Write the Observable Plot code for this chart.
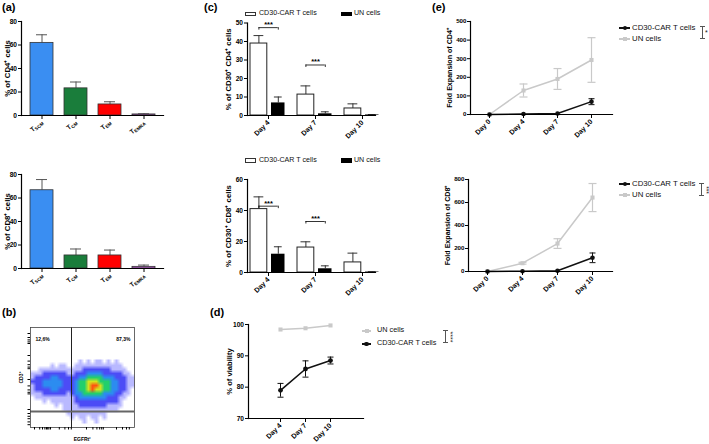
<!DOCTYPE html>
<html><head><meta charset="utf-8">
<script src="https://cdn.jsdelivr.net/npm/d3@7"></script>
<script src="https://cdn.jsdelivr.net/npm/@observablehq/plot@0.6"></script>
<style>
body{margin:0;background:#fff;}
#fig{position:relative;width:709px;height:444px;overflow:hidden;background:#fff;}
</style></head>
<body><div id="fig"></div>
<script>
// ---------- data ----------
const subsets = ["SCM", "CM", "EM", "EMRA"];
const subsetColors = ["#3a8ef2", "#1a7d3b", "#ff0000", "#c25fd6"];
const cd4Percent = [61.8, 23.1, 9.4, 0.9];
const cd4PercentErr = [6.9, 5.4, 2.3, 0.5];
const cd8Percent = [66.6, 11.1, 11.1, 1.4];
const cd8PercentErr = [9.1, 5.5, 4.6, 1.5];

const cd30Days = ["Day 4", "Day 7", "Day 10"];
const cd30Cd4Car = [38.9, 11.3, 3.8];
const cd30Cd4CarErr = [4.3, 4.7, 2.5];
const cd30Cd4Un = [6.8, 0.9, 0.3];
const cd30Cd4UnErr = [3.2, 1.1, 0.2];
const cd30Cd4Sig = [47.5, 27.3];
const cd30Cd8Car = [40.9, 16.1, 6.5];
const cd30Cd8CarErr = [7.9, 3.7, 6.0];
const cd30Cd8Un = [11.8, 2.4, 0.3];
const cd30Cd8UnErr = [4.8, 1.9, 0.2];
const cd30Cd8Sig = [42.8, 32.9];

const viabilityUn = [98.4, 98.8, 99.7];
const viabilityCar = [79.0, 85.8, 88.5];
const viabilityCarErr = [2.2, 2.6, 1.1];

const expansionDays = ["Day 0", "Day 4", "Day 7", "Day 10"];
const expCd4Car = [0, 3, 5, 69];
const expCd4CarErr = [0, 2, 3, 16];
const expCd4Un = [0, 129, 191, 293];
const expCd4UnErr = [0, 35, 56, 120];
const expCd8Car = [0, 2, 6, 119];
const expCd8CarErr = [0, 2, 3, 42];
const expCd8Un = [0, 72, 243, 643];
const expCd8UnErr = [0, 8, 42, 122];

// flow cytometry density (levels 0-6), 16 rows x 26 columns
const flowDensity = [
  "00000000000010101101010000",
  "00000101100111111111111000",
  "00111111111112222222111100",
  "11122222211222333322222110",
  "12222332222233444433322211",
  "22233333222344555444332211",
  "12233333222344566544332211",
  "12222332222344565544332210",
  "11122222212334444433322110",
  "01111111111233333332221100",
  "00010111111222222222221000",
  "00000010111122222221111000",
  "00000000111111111111110000",
  "00000000011111111110000000",
  "00000000001011011010000000",
  "00000000000001001000000000"
];
const flowColors = ["#b9b9ff", "#4c4cf6", "#2c8cf0", "#22cf6c", "#d2e41e", "#ff5210"];
const flowGateX = 10.25;
const flowGateY = 21;
const flowPercents = ["12,6%", "87,3%"];
const flowTicksY = [1.5, 2.5, 3.1, 3.6, 4.0, 7.0, 8.4, 9.3, 9.9, 10.3, 13.0, 14.6, 15.6, 16.2, 16.6, 20.5, 21.5, 22.2, 22.8, 23.6, 24.3];
const flowTicksX = [1.0, 2.3, 3.0, 3.6, 4.0, 4.3, 4.6, 5.0, 7.2, 8.6, 9.5, 10.2, 14.0, 15.6, 16.6, 17.3, 17.8, 18.2, 21.5, 23.0, 24.0, 24.7];

// ---------- helpers ----------
const fig = document.getElementById("fig");
const W = 709, H = 444;
const FONT = '"Liberation Sans", Arial, Helvetica, sans-serif';
const GREY = "#c9c9c9";
const svgStyle = {position: "absolute", left: "0px", top: "0px", background: "transparent",
  overflow: "visible", fontFamily: FONT, fontSize: "6.6px", fontWeight: "bold", color: "#000"};
// horizontal error-bar cap drawn as a dot symbol (for point scales)
const capSymbol = {draw(context, size) { const w = Math.sqrt(size / Math.PI); context.moveTo(-w, 0); context.lineTo(w, 0); }};
function frameMargins(l, r, t, b) {
  return {width: W, height: H, marginLeft: l, marginRight: W - r, marginTop: t, marginBottom: H - b};
}
function axisLines() {
  return [Plot.frame({anchor: "left", strokeWidth: 1.2}), Plot.frame({anchor: "bottom", strokeWidth: 1.2})];
}
function yTitle(text, dx, size) {
  return Plot.text([text], {text: d => d, frameAnchor: "left", textAnchor: "middle", rotate: -90, dx, fontSize: size, fontWeight: "bold"});
}
function put(node) { fig.appendChild(node); return node; }
function box(left, top, w, h, css) {
  const d = document.createElement("div");
  d.style.cssText = `position:absolute;left:${left}px;top:${top}px;width:${w}px;height:${h}px;${css || ""}`;
  fig.appendChild(d); return d;
}
function label(text, left, cy, size, css) {
  const d = document.createElement("div");
  d.textContent = text;
  d.style.cssText = `position:absolute;left:${left}px;top:${cy - size * 0.62}px;font-size:${size}px;line-height:${size * 1.2}px;white-space:nowrap;font-family:${FONT};color:#111;${css || ""}`;
  fig.appendChild(d); return d;
}
function rotatedStars(text, cx, cy, size) {
  const d = document.createElement("div");
  d.textContent = text;
  d.style.cssText = `position:absolute;left:${cx - 12}px;top:${cy - 4}px;width:24px;height:8px;line-height:8px;text-align:center;font-size:${size}px;font-family:${FONT};transform:rotate(90deg);color:#222;`;
  fig.appendChild(d);
}
function bracket(x, y1, y2) {
  box(x, y1, 1, y2 - y1, "background:#555");
  box(x - 2, y1, 5, 1, "background:#555");
  box(x - 2, y2 - 1, 5, 1, "background:#555");
}

// ---------- (a) subset bar charts ----------
function subsetPanel(values, errs, top, bottom, title) {
  const rows = subsets.map((s, i) => ({s, v: values[i], e: errs[i], c: subsetColors[i]}));
  const p = Plot.plot({
    ...frameMargins(21, 163, top, bottom),
    style: svgStyle,
    x: {domain: subsets, range: [24, 162], paddingInner: 0.31, paddingOuter: 0.155},
    y: {domain: [0, 80]},
    color: {type: "identity"},
    marks: [
      Plot.ruleX(rows, {x: "s", y1: "v", y2: d => d.v + d.e, stroke: "#555", strokeWidth: 1}),
      Plot.tickY(rows, {x: "s", y: d => d.v + d.e, insetLeft: 6, insetRight: 6, stroke: "#555", strokeWidth: 1}),
      Plot.barY(rows, {x: "s", y: "v", fill: "c", stroke: "#333", strokeWidth: 0.8}),
      Plot.axisY({ticks: [0, 20, 40, 60, 80], tickSize: 3, tickPadding: 1.5, label: null}),
      Plot.axisX({tickSize: 4, tickPadding: 2, tickRotate: -40, tickFormat: d => "T" + d, label: null}),
      ...axisLines(),
      yTitle(title, -14.5, 7.8)
    ]
  });
  p.querySelectorAll('g[aria-label="x-axis tick label"] text').forEach(t => {
    const sub = t.textContent.slice(1);
    t.textContent = "T";
    const ts = document.createElementNS("http://www.w3.org/2000/svg", "tspan");
    ts.setAttribute("font-size", "4.6");
    ts.setAttribute("dy", "1.3");
    ts.textContent = sub;
    t.appendChild(ts);
  });
  return put(p);
}
subsetPanel(cd4Percent, cd4PercentErr, 21, 115, "% of CD4\u207A cells");
subsetPanel(cd8Percent, cd8PercentErr, 174, 268, "% of CD8\u207A cells");

// ---------- (c) CD30+ grouped bars ----------
function cd30Panel(car, carErr, un, unErr, sig, top, bottom, ymax, ticks, title) {
  const carRows = cd30Days.map((d, i) => ({d, v: car[i], e: carErr[i]}));
  const unRows = cd30Days.map((d, i) => ({d, v: un[i], e: unErr[i]}));
  const sigRows = sig.map((y, i) => ({d: cd30Days[i], y}));
  const perPx = ymax / (bottom - top);
  return put(Plot.plot({
    ...frameMargins(247, 375, top, bottom),
    style: svgStyle,
    x: {domain: cd30Days, range: [244.5, 385.5], paddingInner: 0.23, paddingOuter: 0.115},
    y: {domain: [0, ymax]},
    marks: [
      Plot.ruleX(carRows, {x: "d", y1: "v", y2: d => d.v + d.e, dx: -9.6, stroke: "#333"}),
      Plot.tickY(carRows, {x: "d", y: d => d.v + d.e, insetLeft: 3.5, insetRight: 22.7, stroke: "#333"}),
      Plot.ruleX(unRows, {x: "d", y1: "v", y2: d => d.v + d.e, dx: 9.8, stroke: "#333"}),
      Plot.tickY(unRows, {x: "d", y: d => d.v + d.e, insetLeft: 23.9, insetRight: 4.3, stroke: "#333"}),
      Plot.barY(carRows, {x: "d", y: "v", fill: "white", stroke: "#222", strokeWidth: 1, insetRight: 19.2}),
      Plot.barY(unRows, {x: "d", y: "v", fill: "black", insetLeft: 21, insetRight: 1.5}),
      Plot.tickY(sigRows, {x: "d", y: "y", insetLeft: 8.5, insetRight: 8.3, strokeWidth: 0.8}),
      Plot.ruleX(sigRows, {x: "d", y1: "y", y2: d => d.y - 2.5 * perPx, dx: -9.6, strokeWidth: 0.8}),
      Plot.ruleX(sigRows, {x: "d", y1: "y", y2: d => d.y - 2.5 * perPx, dx: 9.8, strokeWidth: 0.8}),
      Plot.text(sigRows, {x: "d", y: "y", text: () => "***", dy: -3, fontSize: 7.5}),
      Plot.axisY({ticks, tickSize: 3, tickPadding: 1.5, label: null}),
      Plot.axisX({tickSize: 4, tickPadding: 2, tickRotate: -45, label: null, fontSize: 7}),
      ...axisLines(),
      yTitle(title, -19, 7.8)
    ]
  }));
}
cd30Panel(cd30Cd4Car, cd30Cd4CarErr, cd30Cd4Un, cd30Cd4UnErr, cd30Cd4Sig, 22.5, 115, 50, [0, 10, 20, 30, 40, 50], "% of CD30\u207A CD4\u207A cells");
cd30Panel(cd30Cd8Car, cd30Cd8CarErr, cd30Cd8Un, cd30Cd8UnErr, cd30Cd8Sig, 179, 272, 60, [0, 20, 40, 60], "% of CD30\u207A CD8\u207A cells");

// ---------- (d) viability ----------
(function () {
  const unRows = cd30Days.map((d, i) => ({d, v: viabilityUn[i]}));
  const carRows = cd30Days.map((d, i) => ({d, v: viabilityCar[i], e: viabilityCarErr[i]}));
  put(Plot.plot({
    ...frameMargins(248, 363, 324, 418),
    style: svgStyle,
    x: {type: "point", domain: cd30Days, range: [267, 343]},
    y: {domain: [70, 100]},
    marks: [
      Plot.line(unRows, {x: "d", y: "v", stroke: GREY, strokeWidth: 1.5}),
      Plot.dot(unRows, {x: "d", y: "v", symbol: "square", fill: GREY, r: 2.3}),
      Plot.ruleX(carRows, {x: "d", y1: d => d.v - d.e, y2: d => d.v + d.e, stroke: "#111"}),
      Plot.dot(carRows, {x: "d", y: d => d.v - d.e, symbol: capSymbol, r: 3, stroke: "#111", strokeWidth: 1}),
      Plot.dot(carRows, {x: "d", y: d => d.v + d.e, symbol: capSymbol, r: 3, stroke: "#111", strokeWidth: 1}),
      Plot.line(carRows, {x: "d", y: "v", stroke: "#111", strokeWidth: 1.6}),
      Plot.dot(carRows, {x: "d", y: "v", fill: "#111", r: 2.4}),
      Plot.axisY({ticks: [70, 80, 90, 100], tickSize: 3, tickPadding: 1.5, label: null}),
      Plot.axisX({tickSize: 4, tickPadding: 2, tickRotate: -45, label: null, fontSize: 7}),
      ...axisLines(),
      yTitle("% of viability", -19, 7.6)
    ]
  }));
})();

// ---------- (e) fold expansion ----------
function expansionPanel(car, carErr, un, unErr, left, top, bottom, ymax, ticks, title) {
  const carRows = expansionDays.map((d, i) => ({d, v: car[i], e: carErr[i]}));
  const unRows = expansionDays.map((d, i) => ({d, v: un[i], e: unErr[i]}));
  const unErrRows = unRows.filter(d => d.e > 0);
  const carErrRows = carRows.filter(d => d.e > 4);
  put(Plot.plot({
    ...frameMargins(left, 612, top, bottom),
    style: svgStyle,
    x: {type: "point", domain: expansionDays, range: [left + 0.5, 610]},
    y: {domain: [0, ymax]},
    marks: [
      Plot.ruleX(unRows, {x: "d", y1: d => d.v - d.e, y2: d => d.v + d.e, stroke: GREY, strokeWidth: 1.2}),
      Plot.dot(unErrRows, {x: "d", y: d => d.v - d.e, symbol: capSymbol, r: 4, stroke: GREY, strokeWidth: 1.2}),
      Plot.dot(unErrRows, {x: "d", y: d => d.v + d.e, symbol: capSymbol, r: 4, stroke: GREY, strokeWidth: 1.2}),
      Plot.line(unRows, {x: "d", y: "v", stroke: GREY, strokeWidth: 1.5}),
      Plot.dot(unRows, {x: "d", y: "v", symbol: "square", fill: GREY, r: 2.3}),
      Plot.ruleX(carRows, {x: "d", y1: d => d.v - d.e, y2: d => d.v + d.e, stroke: "#111"}),
      Plot.dot(carErrRows, {x: "d", y: d => d.v - d.e, symbol: capSymbol, r: 3, stroke: "#111", strokeWidth: 1}),
      Plot.dot(carErrRows, {x: "d", y: d => d.v + d.e, symbol: capSymbol, r: 3, stroke: "#111", strokeWidth: 1}),
      Plot.line(carRows, {x: "d", y: "v", stroke: "#111", strokeWidth: 1.5}),
      Plot.dot(carRows, {x: "d", y: "v", fill: "#111", r: 2.3}),
      Plot.axisY({ticks, tickSize: 3, tickPadding: 1, label: null, fontSize: 6.2}),
      Plot.axisX({tickSize: 4, tickPadding: 2, tickRotate: -45, label: null, fontSize: 7}),
      ...axisLines(),
      yTitle(title, -20.5, 7.1)
    ]
  }));
}
expansionPanel(expCd4Car, expCd4CarErr, expCd4Un, expCd4UnErr, 470, 21, 114, 500, [0, 100, 200, 300, 400, 500], "Fold Expansion of CD4\u207A");
expansionPanel(expCd8Car, expCd8CarErr, expCd8Un, expCd8UnErr, 468, 179, 271, 800, [0, 200, 400, 600, 800], "Fold Expansion of CD8\u207A");

// ---------- (b) flow cytometry dot plot ----------
(function () {
  const levels = flowDensity.join("").split("").map(Number);
  put(Plot.plot({
    ...frameMargins(30, 134, 327, 427),
    style: svgStyle,
    x: {domain: [0, 26]},
    y: {domain: [0, 25], reverse: true},
    color: {type: "ordinal", domain: [1, 2, 3, 4, 5, 6], range: flowColors},
    marks: [
      Plot.raster(levels, {width: 26, height: 16, x1: 0, x2: 26, y1: 8, y2: 24,
        fill: d => Math.max(d, 1), fillOpacity: d => (d > 0 ? 1 : 0), imageRendering: "auto"}),
      Plot.ruleX([flowGateX], {stroke: "#222", strokeWidth: 1}),
      Plot.ruleY([flowGateY], {stroke: "#666", strokeWidth: 2}),
      Plot.frame({stroke: "#444", strokeWidth: 0.8}),
      Plot.axisY({ticks: flowTicksY, tickFormat: () => "", tickSize: 2.5, label: null}),
      Plot.axisX({ticks: flowTicksX, tickFormat: () => "", tickSize: 2.5, label: null}),
      Plot.text([flowPercents[0]], {text: d => d, frameAnchor: "top-left", dx: 5, dy: 10, textAnchor: "start", fontSize: 5}),
      Plot.text([flowPercents[1]], {text: d => d, frameAnchor: "top-right", dx: -4, dy: 10, textAnchor: "end", fontSize: 5}),
      Plot.text(["CD3\u207A"], {text: d => d, frameAnchor: "left", textAnchor: "middle", rotate: -90, dx: -9, fontSize: 5}),
      Plot.text(["EGFRt\u207A"], {text: d => d, frameAnchor: "bottom", dy: 13, fontSize: 5})
    ]
  }));
})();

// ---------- panel letters ----------
label("(a)", 2, 7.5, 11, "font-weight:bold;color:#000");
label("(b)", 2, 313, 11, "font-weight:bold;color:#000");
label("(c)", 204, 7.5, 11, "font-weight:bold;color:#000");
label("(d)", 210, 313, 11, "font-weight:bold;color:#000");
label("(e)", 432, 7.5, 11, "font-weight:bold;color:#000");

// ---------- legends ----------
[13.7, 160.2].forEach(cy => {
  box(245, cy - 2.2, 11, 4.5, "border:1px solid #333;background:#fff;box-sizing:border-box");
  label("CD30-CAR T cells", 259, cy, 7.1);
  box(341, cy - 2.2, 11, 4.5, "background:#000");
  label("UN cells", 354, cy, 7.1);
});
// (d)
box(362, 330.3, 9, 1.4, `background:${GREY}`); box(364.5, 329, 4, 4, `background:${GREY}`);
label("UN cells", 377, 331, 7.3);
box(362, 343.3, 9, 1.4, "background:#111"); box(364.3, 341.8, 4.5, 4.5, "background:#111;border-radius:50%");
label("CD30-CAR T cells", 377, 344, 7.3);
bracket(445, 330, 343);
rotatedStars("****", 449.5, 336.5, 7);
// (e)
[[28, 39], [184, 195]].forEach(([c1, c2]) => {
  box(619, c1 - 0.7, 11, 1.4, "background:#111"); box(622.7, c1 - 2.3, 4.6, 4.6, "background:#111;border-radius:50%");
  label("CD30-CAR T cells", 632, c1, 7.8);
  box(619, c2 - 0.7, 11, 1.4, `background:${GREY}`); box(623, c2 - 2, 4, 4, `background:${GREY}`);
  label("UN cells", 632, c2, 7.8);
});
bracket(702, 26, 39);
label("*", 705, 33.5, 7);
bracket(701, 183, 196);
rotatedStars("***", 705.5, 189.5, 6.5);
</script>
</body></html>
